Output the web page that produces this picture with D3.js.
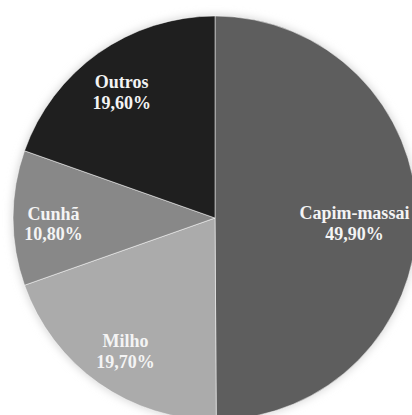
<!DOCTYPE html>
<html>
<head>
<meta charset="utf-8">
<script src="https://cdn.jsdelivr.net/npm/d3@7"></script>
<style>
  html, body { margin: 0; padding: 0; background: #ffffff; }
  svg { display: block; }
</style>
</head>
<body>
<script>
// Composição da dieta (%)
const categories = ["Capim-massai", "Milho", "Cunhã", "Outros"];
const values = [49.9, 19.7, 10.8, 19.6];
const valueLabels = ["49,90%", "19,70%", "10,80%", "19,60%"];
const colors = ["#5e5e5e", "#ababab", "#888888", "#1f1f1f"];

const width = 412, height = 415;
const cx = 215, cy = 218, radius = 202;

const svg = d3.select("body").append("svg")
  .attr("width", width).attr("height", height);

const defs = svg.append("defs");
const shadow = defs.append("filter").attr("id", "soft")
  .attr("x", "-10%").attr("y", "-10%").attr("width", "120%").attr("height", "120%");
shadow.append("feGaussianBlur").attr("stdDeviation", 4);

const g = svg.append("g").attr("transform", `translate(${cx},${cy})`);

const pie = d3.pie().sort(null).value(d => d.value);
const data = categories.map((c, i) => ({ name: c, value: values[i], label: valueLabels[i], color: colors[i] }));
const arcs = pie(data);

const arc = d3.arc().innerRadius(0).outerRadius(radius);

// faint halo around the disc
g.append("circle").attr("r", radius + 1).attr("fill", "#d8d8d8").attr("filter", "url(#soft)");

g.selectAll("path.slice").data(arcs).join("path")
  .attr("class", "slice")
  .attr("d", arc)
  .attr("fill", d => d.data.color)
  .attr("stroke", "#ffffff")
  .attr("stroke-width", 0.5);

// label distance from centre, as a fraction of the radius
const labelFactor = { "Capim-massai": 0.69, "Milho": 0.77, "Cunhã": 0.80, "Outros": 0.80 };

const labels = g.selectAll("text.lbl").data(arcs).join("text")
  .attr("class", "lbl")
  .attr("transform", d => {
    const a = (d.startAngle + d.endAngle) / 2;
    const r = radius * labelFactor[d.data.name];
    return `translate(${Math.sin(a) * r},${-Math.cos(a) * r})`;
  })
  .attr("text-anchor", "middle")
  .attr("font-family", "'Liberation Serif', 'Times New Roman', serif")
  .attr("font-weight", "bold")
  .attr("font-size", 18)
  .attr("fill", "#f4f4f4");

labels.append("tspan").attr("x", 0).attr("dy", "0.1em").text(d => d.data.name);
labels.append("tspan").attr("x", 0).attr("dy", "1.15em").text(d => d.data.label);
</script>
</body>
</html>
